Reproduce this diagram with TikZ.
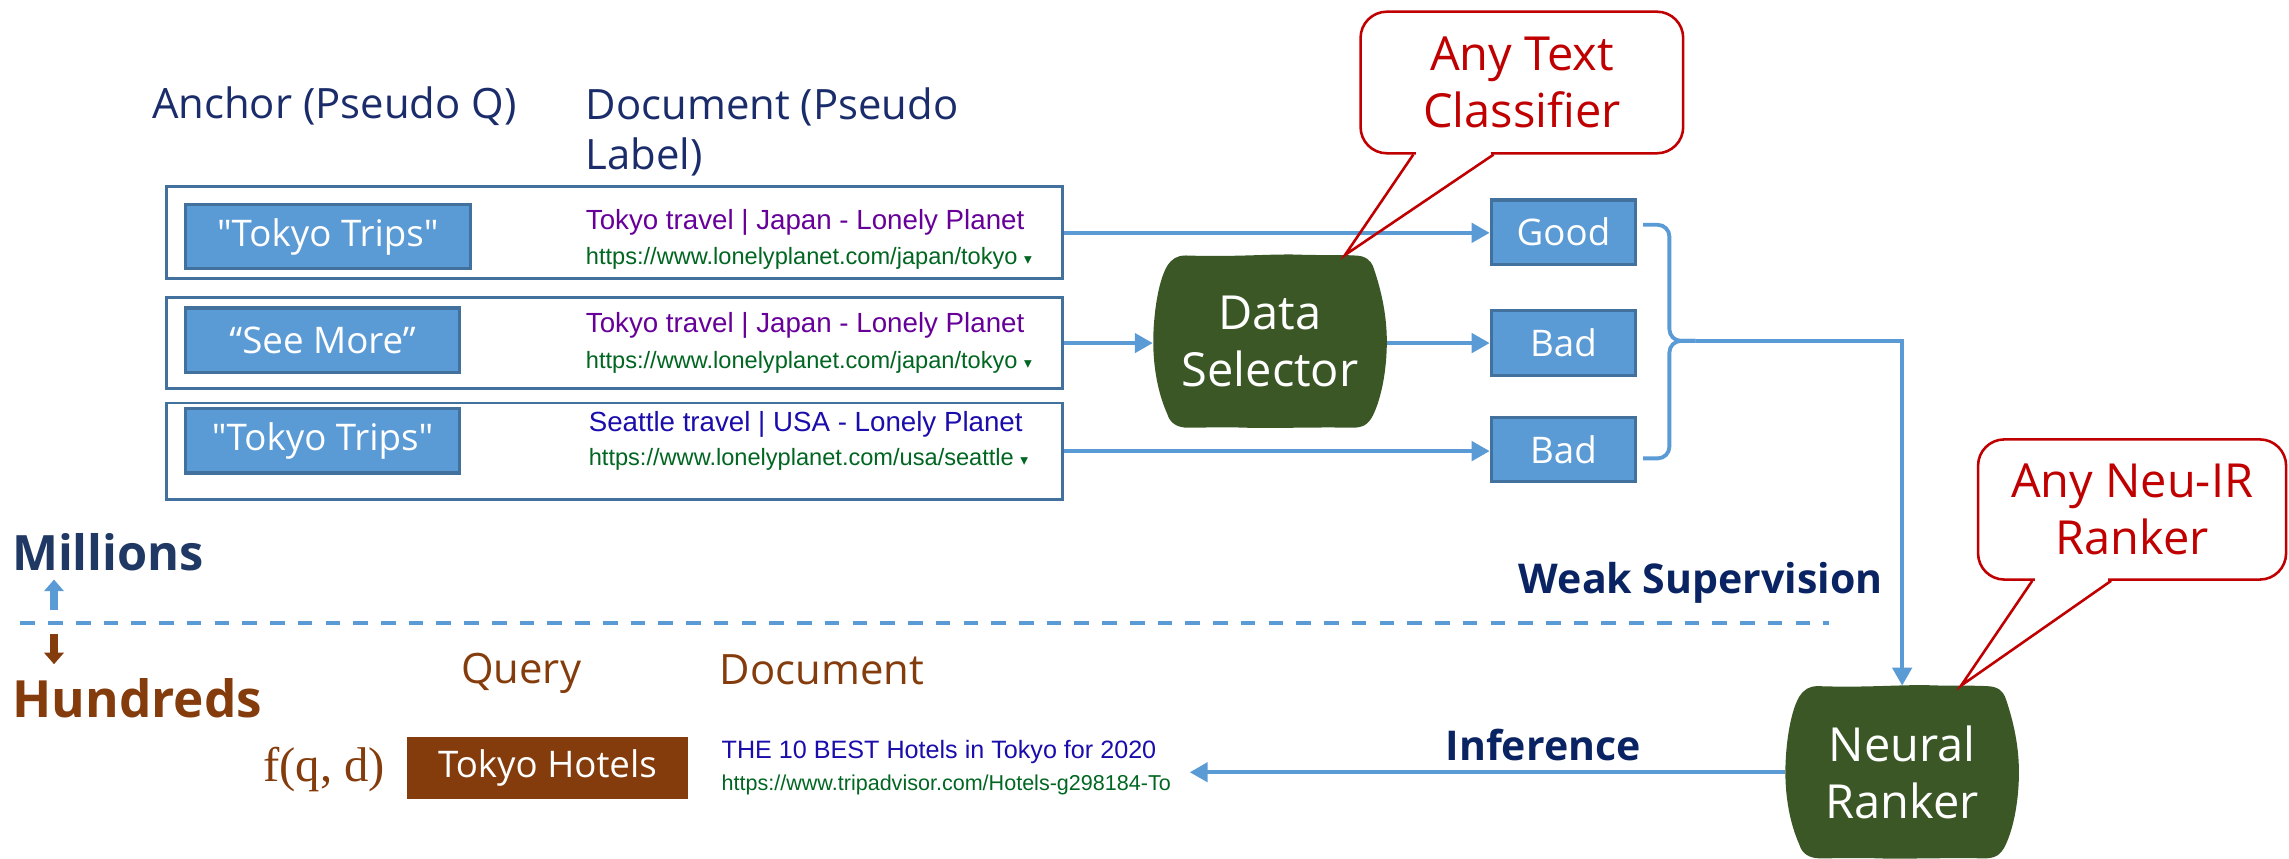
\documentclass[tikz,border=0pt]{standalone}
\usepackage{fontspec}
\setmainfont{Open Sans}
\newfontfamily\serpfont{Liberation Sans}
\newfontfamily\scorefont{Liberation Serif}
\newfontfamily\glyphfont{DejaVu Sans}
\font\rawquote="Open Sans" at 14.3pt
\usetikzlibrary{arrows.meta,calc}

\definecolor{headblue}{HTML}{1B2C6B}
\definecolor{darkblue}{HTML}{0A2463}
\definecolor{slateblue}{HTML}{203864}
\definecolor{rustbrown}{HTML}{843C0C}
\definecolor{boxblue}{HTML}{5B9BD5}
\definecolor{edgeblue}{HTML}{41719C}
\definecolor{leafgreen}{HTML}{3B5726}
\definecolor{calloutred}{HTML}{C00000}
\definecolor{visited}{HTML}{660099}
\definecolor{linkblue}{HTML}{1A0DAB}
\definecolor{urlgreen}{HTML}{006621}

\newcommand\fsz[2]{\fontsize{#1}{#2}\selectfont}
\newcommand\drop{~{\glyphfont\fsz{6}{7}▾}}
\newcommand\sq{{\rawquote"}}

\begin{document}
\begin{tikzpicture}[x=0.2mm, y=-0.2mm,
    head/.style={text=headblue, font=\fsz{16.3}{19.6}, inner sep=0pt},
    brownhead/.style={text=rustbrown, font=\fsz{16.3}{19.6}, inner sep=0pt},
    rowbox/.style={draw=edgeblue, line width=1.1pt, fill=white, minimum width=614*0.2mm, inner sep=0pt},
    anchorbox/.style={draw=edgeblue, line width=1.2pt, fill=boxblue, text=white, font=\fsz{14.3}{17}, minimum height=44*0.2mm, inner sep=0pt},
    verdict/.style={anchorbox, minimum width=99*0.2mm},
    serptitle/.style={font=\serpfont\fsz{10.8}{13}, anchor=west, inner sep=0pt},
    serpurl/.style={text=urlgreen, font=\serpfont\fsz{9.2}{11}, anchor=west, inner sep=0pt},
    model/.style={text=white, font=\fsz{18.3}{22}, align=center, minimum width=160*0.2mm, minimum height=118*0.2mm, inner sep=0pt},
    callbox/.style={draw=calloutred, line width=1pt, rounded corners=3.6mm, fill=white, text=calloutred, font=\fsz{18.3}{22}, align=center, inner sep=0pt},
    flow/.style={draw=boxblue, line width=1.5pt, -{Triangle[length=7pt,width=7.5pt]}},
    strong/.style={text=darkblue, font=\bfseries\fsz{16}{19.2}, inner sep=0pt},
    blob/.pic={
      \fill[leafgreen] (-0.36,-0.5) .. controls (-0.15,-0.49) and (0,-0.51) .. (0.12,-0.505)
        .. controls (0.22,-0.5) and (0.3,-0.505) .. (0.36,-0.5)
        .. controls (0.41,-0.5) and (0.43,-0.47) .. (0.44,-0.44)
        .. controls (0.49,-0.25) and (0.5,-0.1) .. (0.5,0)
        .. controls (0.5,0.15) and (0.48,0.32) .. (0.44,0.43)
        .. controls (0.42,0.48) and (0.4,0.5) .. (0.35,0.5)
        .. controls (0.2,0.495) and (0,0.505) .. (-0.1,0.5)
        .. controls (-0.2,0.495) and (-0.3,0.5) .. (-0.35,0.5)
        .. controls (-0.4,0.5) and (-0.43,0.47) .. (-0.44,0.42)
        .. controls (-0.48,0.3) and (-0.5,0.15) .. (-0.5,0)
        .. controls (-0.5,-0.15) and (-0.48,-0.35) .. (-0.44,-0.44)
        .. controls (-0.42,-0.48) and (-0.4,-0.5) .. (-0.36,-0.5) -- cycle;
    }
  ]
  \useasboundingbox (0,0) rectangle (1568,588);

  % column heads
  \node[head, anchor=base] (anchorhd) at (229,81) {Anchor (Pseudo Q)};
  \node[head, anchor=base west, align=left] (dochd) at (401,116) {Document (Pseudo\\Label)};

  % weak supervision rows
  \node[rowbox, minimum height=63*0.2mm] (row1) at (421,159.5) {};
  \node[rowbox, minimum height=62*0.2mm] (row2) at (421,235) {};
  \node[rowbox, minimum height=66*0.2mm] (row3) at (421,309) {};

  \node[anchorbox, minimum width=195*0.2mm] (q1) at (224.5,162) {\sq Tokyo Trips\sq};
  \node[anchorbox, minimum width=188*0.2mm] (q2) at (221,233) {“See More”};
  \node[anchorbox, minimum width=188*0.2mm] (q3) at (221,302) {\sq Tokyo Trips\sq};

  \node[serptitle, text=visited] (t1) at (401,152) {Tokyo travel | Japan - Lonely Planet};
  \node[serpurl] (u1) at (401,177) {https://www.lonelyplanet.com/japan/tokyo\drop};
  \node[serptitle, text=visited] (t2) at (401,223) {Tokyo travel | Japan - Lonely Planet};
  \node[serpurl] (u2) at (401,248) {https://www.lonelyplanet.com/japan/tokyo\drop};
  \node[serptitle, text=linkblue] (t3) at (403,291) {Seattle travel | USA - Lonely Planet};
  \node[serpurl] (u3) at (403,315) {https://www.lonelyplanet.com/usa/seattle\drop};

  % selector and labels
  \path (870,234) pic[xscale=160, yscale=118] {blob};
  \node[model] (sel) at (870,234) {Data\\Selector};

  \node[verdict] (good) at (1071,159) {Good};
  \node[verdict] (bad1) at (1071,235) {Bad};
  \node[verdict] (bad2) at (1071,308) {Bad};

  \draw[flow] (row1.east) -- (row1.east -| good.west);
  \draw[flow] (row2.east) -- (row2.east -| sel.west);
  \draw[flow] (sel.east |- bad1.west) -- (bad1.west);
  \draw[flow] (row3.east) -- (row3.east -| bad2.west);

  % ranker
  \path (1303,529) pic[xscale=160, yscale=118] {blob};
  \node[model] (rank) at (1303,529) {Neural\\Ranker};

  \coordinate (bracemid) at ($(good.east)!0.5!(bad2.east)+(22,0)$);
  \coordinate (bracetip) at ($(bracemid)+(18,0)$);
  \draw[boxblue, line width=1.5pt, rounded corners=1.6mm]
    ($(good.east)+(4,-5)$) -| (bracemid) -- (bracetip);
  \draw[boxblue, line width=1.5pt, rounded corners=1.6mm]
    ($(bad2.east)+(4,6)$) -| (bracemid) -- (bracetip);
  \draw[flow] (bracetip) -| (rank.north);

  \node[strong] (weak) at (1165,399) {Weak Supervision};

  % callouts
  \node[callbox, minimum width=221*0.2mm, minimum height=97*0.2mm] (cls) at (1042.5,56.5) {Any Text\\Classifier};
  \draw[white, line width=2pt] ($(cls.south west)+(39,0)$) -- ($(cls.south west)+(90,0)$);
  \draw[calloutred, line width=1pt] ($(cls.south west)+(37,0)$) -- ($(sel.north east)+(-29,0)$) -- ($(cls.south west)+(92,0)$);

  \node[callbox, minimum width=211*0.2mm, minimum height=96*0.2mm] (nir) at (1460.5,349) {Any Neu-IR\\Ranker};
  \draw[white, line width=2pt] ($(nir.south west)+(40,0)$) -- ($(nir.south west)+(90,0)$);
  \draw[calloutred, line width=1pt] ($(nir.south west)+(38,0)$) -- ($(rank.north east)+(-40,0)$) -- ($(nir.south west)+(92,0)$);

  % scale divider
  \node[text=slateblue, font=\bfseries\fsz{19}{23}, inner sep=0pt] (millions) at (74,378) {Millions};
  \coordinate (upfrom) at (37,418);
  \coordinate (upto) at (37,397);
  \draw[boxblue, line width=2.8pt, -{Triangle[length=4.5pt,width=7.5pt]}] (upfrom) -- (upto);
  \coordinate (dashl) at (14,427);
  \coordinate (dashr) at (1253,427);
  \draw[boxblue, line width=1.5pt, dash pattern=on 2mm off 1.8mm] (dashl) -- (dashr);
  \coordinate (downfrom) at (37,434);
  \coordinate (downto) at (37,455);
  \draw[rustbrown, line width=2.8pt, -{Triangle[length=4.5pt,width=7.5pt]}] (downfrom) -- (downto);
  \node[text=rustbrown, font=\bfseries\fsz{20}{24}, inner sep=0pt] (hundreds) at (94,478) {Hundreds};

  % inference
  \node[brownhead] (qryhd) at (357,461) {Query};
  \node[brownhead] (dochd2) at (563,459) {Document};
  \node[text=rustbrown, font=\scorefont\fsz{19}{23}, inner sep=0pt] (score) at (222,527) {f(q, d)};
  \node[fill=rustbrown, text=white, font=\fsz{14.3}{17}, minimum width=192*0.2mm, minimum height=42*0.2mm, inner sep=0pt] (hotel) at (375,526) {Tokyo Hotels};
  \node[serptitle, text=linkblue, font=\serpfont\fsz{9.8}{12}] (t4) at (494,515) {THE 10 BEST Hotels in Tokyo for 2020};
  \node[serpurl, font=\serpfont\fsz{8.4}{10}] (u4) at (494,538) {https://www.tripadvisor.com/Hotels-g298184-To};

  \coordinate (infend) at (815,529);
  \draw[flow] (rank.west) -- (infend);
  \node[strong] (infer) at (1057,510) {Inference};
\end{tikzpicture}
\end{document}
